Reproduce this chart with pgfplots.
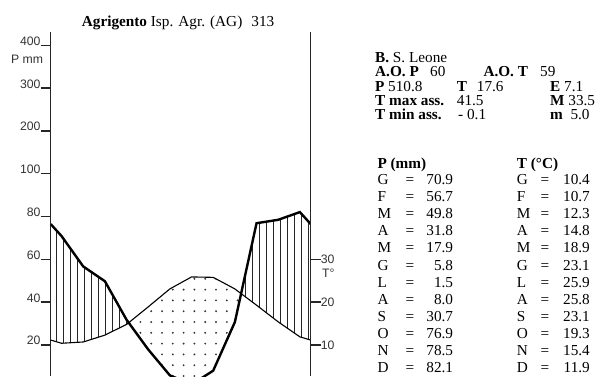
\documentclass[border=0pt]{standalone}
\usepackage{pgfplots}
\pgfplotsset{compat=1.18}
\usepackage{pgfplotstable}
\usepgfplotslibrary{fillbetween}
\usetikzlibrary{patterns.meta}
\usepackage{fontspec}
\setmainfont{Liberation Serif}
\newfontfamily\sansf{Liberation Sans}
\newcommand\tf{\fontsize{15.3}{15.3}\selectfont}
\newcommand\tkf{\sansf\fontsize{12.3}{12.3}\selectfont}
\pgfplotstableread{
x P
0 76.5
0.5 70.9
1.5 56.7
2.5 49.8
3.5 31.8
4.5 17.9
5.5 5.8
6.5 1.5
7.5 8.0
8.5 30.7
9.5 76.9
10.5 78.5
11.5 82.1
12 76.5
}\Ptab
\pgfplotstableread{
x T
0 11.15
0.5 10.4
1.5 10.7
2.5 12.3
3.5 14.8
4.5 18.9
5.5 23.1
6.5 25.9
7.5 25.8
8.5 23.1
9.5 19.3
10.5 15.4
11.5 11.9
12 11.15
}\Ttab
\begin{document}
\begin{tikzpicture}[x=1bp,y=1bp]
\begin{axis}[at={(50.7bp,0bp)}, anchor=south west, scale only axis,
  width=260bp, height=344.3bp, xmin=0, xmax=12, ymin=5.5, ymax=166.4,
  set layers,
  axis x line=none, axis y line*=left,
  y axis line style={-, line width=1.4bp, black!85},
  xtick=\empty, ytick={20,40,60,80,100,120,140,160},
  yticklabels={20,40,60,80,100,200,300,400},
  tick align=outside, major tick length=10bp,
  ytick style={line width=1.4bp, black!85},
  yticklabel style={font=\tkf, anchor=base east, inner sep=0pt, text=black!80},
  clip=true]
\addplot[name path=P, line width=2.4bp, black] table[x=x,y=P]{\Ptab};
\addplot[name path=T, line width=1.1bp, black] table[x=x,y expr=2*\thisrow{T}]{\Ttab};
\addplot[draw=none] fill between[of=P and T, split,
  every segment no 0/.style={pattern={Lines[angle=90,distance=7bp,line width=0.9bp]}, pattern color=black!85},
  every segment no 1/.style={pattern={Dots[distance=10.8bp,radius=1.05bp]}, pattern color=black!80},
  every segment no 2/.style={pattern={Lines[angle=90,distance=7bp,line width=0.9bp]}, pattern color=black!85}];
\end{axis}
\begin{axis}[at={(50.7bp,0bp)}, anchor=south west, scale only axis,
  width=260bp, height=344.3bp, xmin=0, xmax=12, ymin=2.75, ymax=83.2,
  axis x line=none, axis y line*=right,
  y axis line style={-, line width=1.4bp, black!85},
  xtick=\empty, ytick={10,20,30}, yticklabels={10,20,30},
  tick align=outside, major tick length=10bp,
  ytick style={line width=1.4bp, black!85},
  yticklabel style={font=\tkf, anchor=west, inner sep=0pt, text=black!80}]
\addplot[draw=none] coordinates {(0,10) (12,30)};
\end{axis}
\node[anchor=east, inner sep=0pt, font=\tkf, text=black!80] at (43.3,316.7) {P mm};
\node[anchor=west, inner sep=0pt, font=\tkf, text=black!80] at (322,103) {T\textdegree};
% title
\node[anchor=base west, inner sep=0pt] at (81.7,350) {\tf\textbf{Agrigento} Isp. Agr. (AG)\hspace{0.6em}313};
% upper block
\begin{scope}[every node/.style={anchor=base west, inner sep=0pt, font=\tf}]
\node at (375,313.3) {\textbf{B.} S. Leone};
\node at (375,299.15) {\textbf{A.O. P}};
\node at (430,299.15) {60};
\node at (483.3,299.15) {\textbf{A.O. T}};
\node at (540,299.15) {59};
\node at (375,285) {\textbf{P}};
\node at (388,285) {510.8};
\node at (456.7,285) {\textbf{T}};
\node at (476.7,285) {17.6};
\node at (550,285) {\textbf{E}\ 7.1};
\node at (375,270.85) {\textbf{T max ass.}};
\node at (456.7,270.85) {41.5};
\node at (550,270.85) {\textbf{M}\ 33.5};
\node at (375,256.7) {\textbf{T min ass.}};
\node at (458,256.7) {- 0.1};
\node at (550,256.7) {\textbf{m}\ \ 5.0};
\node at (377.3,207.7) {\textbf{P (mm)}};
\node at (516.7,207.7) {\textbf{T (\textdegree C)}};
\foreach \m/\p/\t [count=\i from 0] in {G/70.9/10.4, F/56.7/10.7, M/49.8/12.3, A/31.8/14.8, M/17.9/18.9, G/5.8/23.1, L/1.5/25.9, A/8.0/25.8, S/30.7/23.1, O/76.9/19.3, N/78.5/15.4, D/82.1/11.9}{
  \pgfmathsetmacro\yy{191.7-17.15*\i}
  \node at (377.3,\yy) {\m};
  \node[anchor=base] at (410,\yy) {=};
  \node[anchor=base east] at (453.3,\yy) {\p};
  \node at (516.7,\yy) {\m};
  \node[anchor=base] at (545,\yy) {=};
  \node[anchor=base east] at (590,\yy) {\t};
}
\end{scope}
\pgfresetboundingbox
\path[use as bounding box] (0,0) rectangle (597,376);
\end{tikzpicture}
\end{document}
